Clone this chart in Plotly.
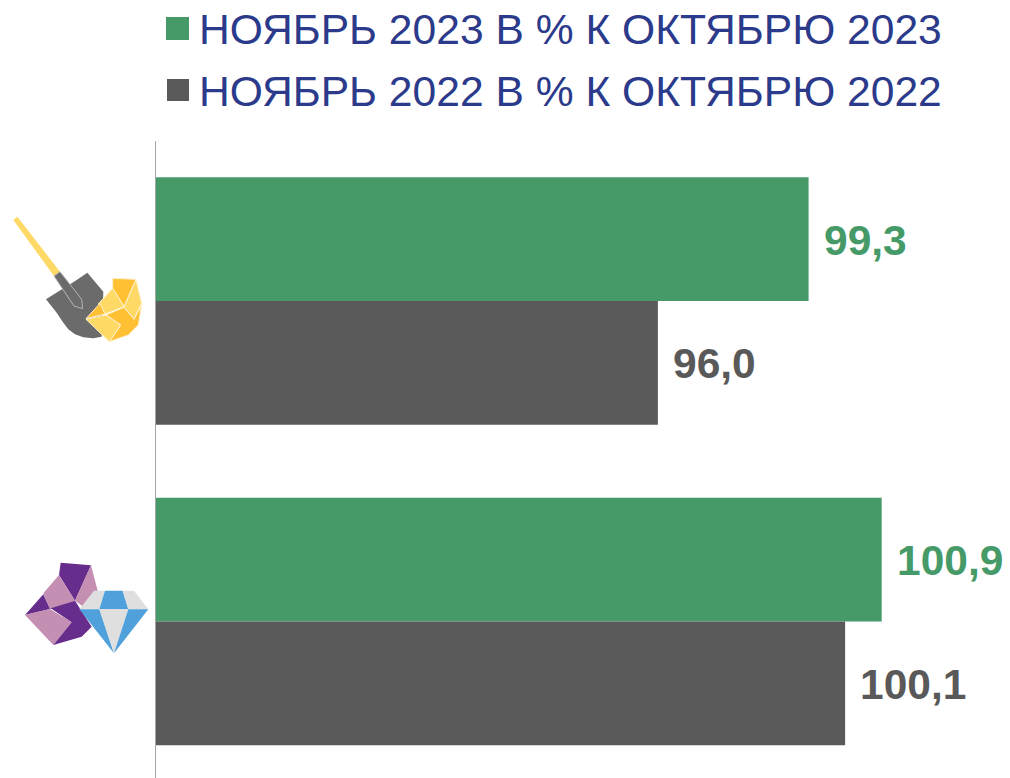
import plotly.graph_objects as go

# --- data ---
categories = ["Добыча драгоценных металлов", "Добыча драгоценных камней"]
positions = [0, 1]
series_2023_name = "НОЯБРЬ 2023 В % К ОКТЯБРЮ 2023"
series_2022_name = "НОЯБРЬ 2022 В % К ОКТЯБРЮ 2022"
series_2023 = [99.3, 100.9]
series_2022 = [96.0, 100.1]

GREEN = "#459A68"
GRAY = "#595959"
NAVY = "#2B3A8A"
FONT = "Liberation Sans, Arial, sans-serif"
W, H = 1010, 778
LEFT, TOP = 155.5, 141
BAR_SHIFT = 0.1925


def fmt(v):
    return f"{v:.1f}".replace(".", ",")


def poly(points, ox, oy, fill, line=None, lw=0):
    """Decorative icon polygon; points are in 3x zoomed pixels."""
    d = []
    for i, (x, y) in enumerate(points):
        px = (ox + x / 3) / W
        py = 1 - (oy + y / 3) / H
        d.append(("M" if i == 0 else "L") + f"{px:.5f},{py:.5f}")
    return dict(type="path", xref="paper", yref="paper", path=" ".join(d) + " Z",
                fillcolor=fill, line=dict(color=line or fill, width=lw), layer="above")


def rect(x0, y0, x1, y1, fill):
    return dict(type="rect", xref="paper", yref="paper", x0=x0 / W, x1=x1 / W,
                y0=1 - y0 / H, y1=1 - y1 / H, fillcolor=fill, line=dict(width=0))


fig = go.Figure()
fig.add_bar(name=series_2023_name, y=positions, x=series_2023, orientation="h",
            marker=dict(color=GREEN, line=dict(width=0)), hovertext=categories)
fig.add_bar(name=series_2022_name, y=positions, x=series_2022, orientation="h",
            marker=dict(color=GRAY, line=dict(width=0)), hovertext=categories)

annotations = []
for pos, a, b in zip(positions, series_2023, series_2022):
    annotations.append(dict(x=a, y=pos - BAR_SHIFT, text=f"<b>{fmt(a)}</b>", showarrow=False,
                            xanchor="left", xshift=13, yshift=-1,
                            font=dict(family=FONT, size=42.5, color=GREEN)))
    annotations.append(dict(x=b, y=pos + BAR_SHIFT, text=f"<b>{fmt(b)}</b>", showarrow=False,
                            xanchor="left", xshift=13, yshift=-1,
                            font=dict(family=FONT, size=42.5, color=GRAY)))
for name, yc in ((series_2023_name, 29.5), (series_2022_name, 90.5)):
    annotations.append(dict(xref="paper", yref="paper", x=196.5 / W, y=1 - yc / H, text=name,
                            showarrow=False, xanchor="left", yanchor="middle",
                            font=dict(family=FONT, size=42.6, color=NAVY)))

LY = "#FFD966"
DY = "#FFC033"
EDGE = "#FFF2CC"
SH = "#6B6B6B"
PU = "#662D8C"
PI = "#C48FB3"
BL = "#4FA0DB"
LG = "#E0DFDF"

shapes = [rect(166, 17, 189, 40, GREEN), rect(167, 79, 189, 101, GRAY)]
ox, oy = 0, 200
shapes += [
    poly([(40, 60), (52, 50), (180, 215), (162, 228)], ox, oy, LY),
    poly([(138, 298), (222, 245), (262, 218), (310, 275), (305, 410), (280, 415), (250, 412),
          (225, 403), (205, 388), (190, 368), (170, 338)], ox, oy, SH),
    poly([(162, 228), (180, 215), (245, 298), (248, 326), (222, 318)], ox, oy, SH, "#B5B5B5", 1),
    poly([(338, 235), (408, 238), (372, 320), (338, 265)], ox, oy, DY, EDGE, 1),
    poly([(408, 238), (425, 310), (402, 358), (372, 322)], ox, oy, LY, EDGE, 1),
    poly([(338, 265), (372, 320), (315, 342), (295, 312)], ox, oy, LY, EDGE, 1),
    poly([(300, 310), (315, 342), (258, 356)], ox, oy, DY, EDGE, 1),
    poly([(372, 322), (402, 358), (425, 315), (415, 375), (385, 405), (328, 425), (362, 375), (318, 345)], ox, oy, DY, EDGE, 1),
    poly([(258, 358), (318, 345), (362, 375), (328, 425)], ox, oy, LY, EDGE, 1),
]
ox, oy = 10, 550
shapes += [
    poly([(152, 38), (243, 46), (195, 152), (147, 75)], ox, oy, PU),
    poly([(243, 46), (265, 130), (220, 170), (195, 152)], ox, oy, PI),
    poly([(147, 75), (195, 152), (120, 177), (100, 130)], ox, oy, PI),
    poly([(100, 133), (120, 177), (45, 195)], ox, oy, PU),
    poly([(45, 195), (120, 177), (185, 217), (130, 285)], ox, oy, PI),
    poly([(122, 175), (195, 152), (245, 230), (215, 260), (130, 285), (185, 217)], ox, oy, PU),
    poly([(208, 178), (252, 122), (285, 122), (268, 178)], ox, oy, LG),
    poly([(285, 122), (338, 122), (355, 178), (268, 178)], ox, oy, BL),
    poly([(338, 122), (372, 122), (415, 178), (355, 178)], ox, oy, LG),
    poly([(208, 178), (268, 178), (312, 310)], ox, oy, BL),
    poly([(268, 178), (355, 178), (312, 310)], ox, oy, LG),
    poly([(355, 178), (415, 178), (312, 310)], ox, oy, BL),
]

fig.update_layout(
    width=W, height=H, margin=dict(l=0, r=0, t=0, b=0),
    paper_bgcolor="white", plot_bgcolor="white",
    barmode="group", bargap=0.228, bargroupgap=0, showlegend=False,
    font=dict(family=FONT),
    xaxis=dict(domain=[LEFT / W, 1], range=[85, 103.71], visible=False, showgrid=False, zeroline=False),
    yaxis=dict(domain=[0, 1 - TOP / H], range=[1.488, -0.499], showgrid=False, zeroline=False,
               showticklabels=False, ticks="", showline=True, linecolor="#A6A6A6", linewidth=1),
    annotations=annotations, shapes=shapes,
)

fig.write_html("out.html", config=dict(displayModeBar=False),
               post_script="document.body.style.margin='0';document.body.style.overflow='hidden';")
